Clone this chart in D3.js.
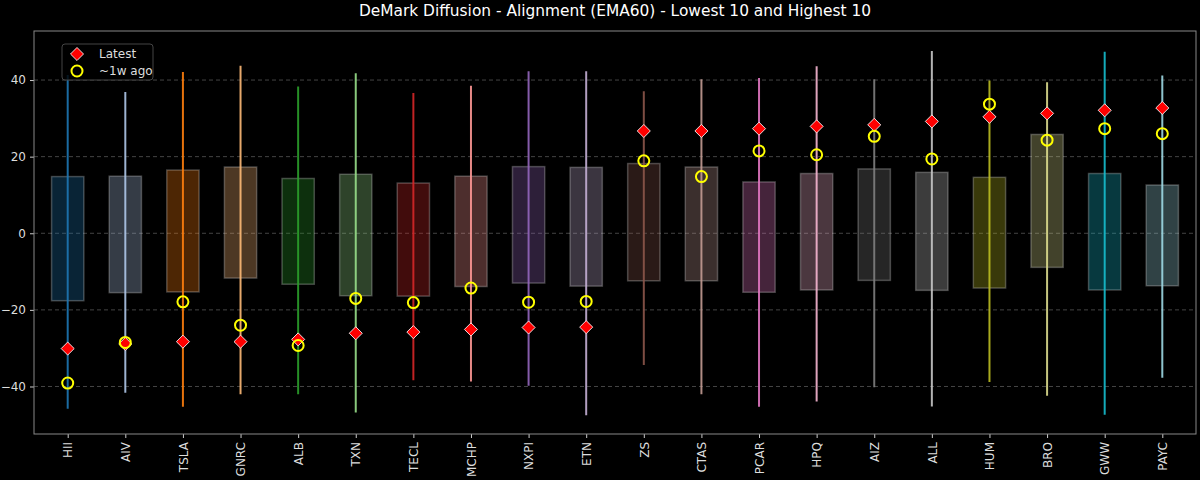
<!DOCTYPE html>
<html>
<head>
<meta charset="utf-8">
<script src="https://cdn.jsdelivr.net/npm/d3@7"></script>
<style>
    body { margin: 0; background: #000; font-family: "DejaVu Sans", sans-serif; }
    svg { display: block; }
</style>
</head>
<body>
<div id="chart"></div>
<script>
// tickers, lowest 10 then highest 10
var tickers = ["HII","AIV","TSLA","GNRC","ALB","TXN","TECL","MCHP","NXPI","ETN",
               "ZS","CTAS","PCAR","HPQ","AIZ","ALL","HUM","BRO","GWW","PAYC"];
// range lines (min / max)
var lowVals  = [-45.8,-41.6,-45.3,-42.0,-42.0,-46.8,-38.4,-38.7,-39.8,-47.5,
                -34.4,-42.0,-45.3,-43.9,-40.2,-45.2,-38.8,-42.4,-47.4,-37.7];
var highVals = [41.3,36.9,42.1,43.7,38.3,41.8,36.6,38.5,42.3,42.3,
                37.1,40.2,40.5,43.6,40.2,47.6,39.9,39.4,47.4,41.2];
// boxes (lower / upper)
var boxLow  = [-17.6,-15.5,-15.3,-11.7,-13.3,-16.3,-16.4,-13.9,-13.0,-13.8,
               -12.4,-12.4,-15.4,-14.8,-12.3,-14.9,-14.3,-8.9,-14.8,-13.7];
var boxHigh = [14.8,14.9,16.5,17.3,14.3,15.4,13.1,14.9,17.4,17.2,
               18.2,17.3,13.4,15.6,16.8,15.9,14.6,25.8,15.6,12.6];
// markers
var latest  = [-30.1,-28.9,-28.3,-28.3,-27.7,-26.1,-25.8,-25.1,-24.6,-24.5,
               26.7,26.7,27.3,27.9,28.3,29.2,30.4,31.3,32.1,32.7];
var weekAgo = [-39.1,-28.5,-17.9,-24.0,-29.3,-17.0,-18.1,-14.3,-18.0,-17.8,
               18.9,14.8,21.5,20.5,25.3,19.4,33.7,24.3,27.3,26.0];
var yTicks = [-40,-20,0,20,40];

var width = 1200, height = 480;
var margin = {top: 31, right: 4, bottom: 46, left: 34};
var innerW = width - margin.left - margin.right,
    innerH = height - margin.top - margin.bottom;

var colors = ["#1f77b4","#aec7e8","#ff7f0e","#ffbb78","#2ca02c","#98df8a","#d62728","#ff9896",
              "#9467bd","#c5b0d5","#8c564b","#c49c94","#e377c2","#f7b6d2","#7f7f7f","#c7c7c7",
              "#bcbd22","#dbdb8d","#17becf","#9edae5"];

var data = tickers.map(function(t, i) {
    return {name: t, lo: lowVals[i], hi: highVals[i], bLo: boxLow[i], bHi: boxHigh[i],
            latest: latest[i], week: weekAgo[i], color: colors[i]};
});

var xScale = d3.scaleLinear().domain([-0.585, 19.585]).range([0, innerW]);
var yScale = d3.scaleLinear().domain([-52.4, 52.8]).range([innerH, 0]);
var barW = xScale(0.56) - xScale(0);

var svg = d3.select("#chart").append("svg")
    .attr("width", width).attr("height", height)
    .style("background", "#000");

svg.append("text")
    .attr("x", margin.left + innerW / 2).attr("y", 16)
    .attr("text-anchor", "middle")
    .style("fill", "#fff").style("font-size", "15.4px")
    .text("DeMark Diffusion - Alignment (EMA60) - Lowest 10 and Highest 10");

var g = svg.append("g").attr("transform", "translate(" + margin.left + "," + margin.top + ")");

// grid
g.selectAll(".grid").data(yTicks).enter().append("line")
    .attr("x1", 0).attr("x2", innerW)
    .attr("y1", function(d) { return yScale(d); }).attr("y2", function(d) { return yScale(d); })
    .style("stroke", "#555").style("stroke-dasharray", "4,3").style("stroke-width", 0.8);

// y axis
var yAxis = g.append("g").call(d3.axisLeft(yScale).tickValues(yTicks).tickSize(4).tickPadding(4)
    .tickFormat(function(d) { return d < 0 ? "\u2212" + Math.abs(d) : d; }));
yAxis.select(".domain").remove();
yAxis.selectAll("line").style("stroke", "#ccc");
yAxis.selectAll("text").style("fill", "#ddd").style("font-size", "12px").style("font-family", "DejaVu Sans");

// x axis
var xAxis = g.append("g").attr("transform", "translate(0," + innerH + ")")
    .call(d3.axisBottom(xScale).tickValues(d3.range(tickers.length)).tickSize(4)
        .tickFormat(function(i) { return tickers[i]; }));
xAxis.select(".domain").remove();
xAxis.selectAll("line").style("stroke", "#ccc");
xAxis.selectAll("text")
    .style("fill", "#ddd").style("font-size", "12px").style("font-family", "DejaVu Sans")
    .attr("transform", "rotate(-90)")
    .attr("text-anchor", "end")
    .attr("x", -8).attr("y", 0).attr("dy", "0.35em");

// boxes
g.selectAll(".box").data(data).enter().append("rect")
    .attr("x", function(d, i) { return xScale(i) - barW / 2; })
    .attr("width", barW)
    .attr("y", function(d) { return yScale(d.bHi); })
    .attr("height", function(d) { return yScale(d.bLo) - yScale(d.bHi); })
    .style("fill", function(d) { return d.color; }).style("fill-opacity", 0.3)
    .style("stroke", "#fff").style("stroke-opacity", 0.25).style("stroke-width", 1.5);

// range lines
g.selectAll(".rng").data(data).enter().append("line")
    .attr("x1", function(d, i) { return xScale(i); }).attr("x2", function(d, i) { return xScale(i); })
    .attr("y1", function(d) { return yScale(d.lo); }).attr("y2", function(d) { return yScale(d.hi); })
    .style("stroke", function(d) { return d.color; }).style("stroke-width", 2).style("opacity", 0.9);

var diamond = d3.symbol().type(d3.symbolSquare).size(85);

// latest
g.selectAll(".latest").data(data).enter().append("path")
    .attr("d", diamond)
    .attr("transform", function(d, i) { return "translate(" + xScale(i) + "," + yScale(d.latest) + ") rotate(45)"; })
    .style("fill", "red").style("stroke", "#fff").style("stroke-width", 0.8);

// week ago
g.selectAll(".week").data(data).enter().append("circle")
    .attr("cx", function(d, i) { return xScale(i); })
    .attr("cy", function(d) { return yScale(d.week); })
    .attr("r", 5.5)
    .style("fill", "none").style("stroke", "yellow").style("stroke-width", 2);

// frame
g.append("rect").attr("width", innerW).attr("height", innerH)
    .style("fill", "none").style("stroke", "#888").style("stroke-width", 1);

// legend
var leg = g.append("g").attr("transform", "translate(28,13)");
leg.append("rect").attr("width", 91).attr("height", 36).attr("rx", 3)
    .style("fill", "#000").style("fill-opacity", 0.8).style("stroke", "#444");
leg.append("path").attr("d", diamond)
    .attr("transform", "translate(15,10) rotate(45)")
    .style("fill", "red").style("stroke", "#fff").style("stroke-width", 0.8);
leg.append("circle").attr("cx", 15).attr("cy", 27).attr("r", 5.5)
    .style("fill", "none").style("stroke", "yellow").style("stroke-width", 2);
leg.append("text").attr("x", 37).attr("y", 14).text("Latest")
    .style("fill", "#ddd").style("font-size", "12px");
leg.append("text").attr("x", 37).attr("y", 31).text("~1w ago")
    .style("fill", "#ddd").style("font-size", "12px");
</script>
</body>
</html>
